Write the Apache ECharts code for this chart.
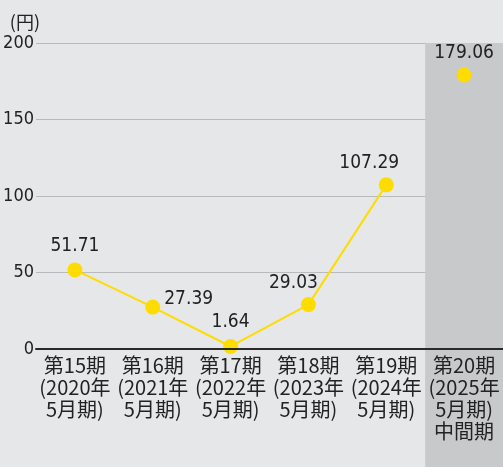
<!DOCTYPE html>
<html><head><meta charset="utf-8">
<script src="https://cdn.jsdelivr.net/npm/echarts@6/dist/echarts.min.js"></script>
<style>html,body{margin:0;padding:0;background:#e6e7e9;}#c{width:503px;height:467px;}</style>
</head><body><div id="c"></div>
<script>
var categories = ['第15期\n(2020年\n5月期)', '第16期\n(2021年\n5月期)', '第17期\n(2022年\n5月期)', '第18期\n(2023年\n5月期)', '第19期\n(2024年\n5月期)', '第20期\n(2025年\n5月期)\n中間期'];
var annualValues = [51.71, 27.39, 1.64, 29.03, 107.29, null];
var interimValues = [null, null, null, null, null, 179.06];
var yTicks = [0, 50, 100, 150, 200];
var unitLabel = '(円)';

var numFont = '"DejaVu Sans Condensed", "Liberation Sans", sans-serif';
var cjkFont = '"Noto Sans CJK JP", sans-serif';
var labelCfg = [
  {position: 'top', distance: 7, offset: [0, 0]},
  {position: 'right', distance: 4, offset: [0, -8]},
  {position: 'top', distance: 7, offset: [0, 0]},
  {position: 'top', distance: 5, offset: [-15, 0]},
  {position: 'top', distance: 5, offset: [-17, 0]}
];
var annualData = annualValues.map(function (v, i) {
  if (v === null) return '-';
  return {value: v, label: labelCfg[i]};
});
var interimData = interimValues.map(function (v) { return v === null ? '-' : v; });

var chart = echarts.init(document.getElementById('c'), null, {renderer: 'canvas'});
var option = {
  backgroundColor: '#e6e7e9',
  animation: false,
  grid: {left: 36, right: -1, top: 43, bottom: 118, containLabel: false},
  xAxis: {
    type: 'category', data: categories, z: 5,
    axisLine: {lineStyle: {color: '#2a2a2a', width: 2}},
    axisTick: {show: false},
    axisLabel: {interval: 0, color: '#222', fontFamily: cjkFont, fontSize: 20, lineHeight: 22, margin: 5},
    splitLine: {show: false}
  },
  yAxis: {
    type: 'value', min: yTicks[0], max: yTicks[yTicks.length - 1], interval: 50, z: 0,
    name: unitLabel, nameLocation: 'end', nameGap: 12,
    nameTextStyle: {color: '#222', fontFamily: cjkFont, fontSize: 18, align: 'right', padding: [0, -4, 0, 0]},
    axisLine: {show: false}, axisTick: {show: false},
    axisLabel: {color: '#222', fontFamily: numFont, fontSize: 18, margin: 2},
    splitLine: {lineStyle: {color: '#b9babc', width: 1}}
  },
  series: [
    {
      type: 'line', data: annualData, z: 4,
      lineStyle: {color: '#ffdc00', width: 2},
      itemStyle: {color: '#ffdc00'},
      symbol: 'circle', symbolSize: 15,
      label: {show: true, color: '#222', fontFamily: numFont, fontSize: 19},
      emphasis: {disabled: true}
    },
    {
      type: 'line', data: interimData, z: 4,
      lineStyle: {color: '#ffdc00', width: 2},
      itemStyle: {color: '#ffdc00'},
      symbol: 'circle', symbolSize: 15,
      label: {show: true, position: 'top', distance: 5, color: '#222', fontFamily: numFont, fontSize: 19},
      emphasis: {disabled: true}
    }
  ]
};
chart.setOption(option);

// shaded band behind the interim period, derived from the axis scale
var c5 = chart.convertToPixel({xAxisIndex: 0}, 5);
var c4 = chart.convertToPixel({xAxisIndex: 0}, 4);
var step = c5 - c4;
var yTop = chart.convertToPixel({yAxisIndex: 0}, yTicks[yTicks.length - 1]);
chart.setOption({
  graphic: [{
    type: 'rect', z: 1,
    shape: {x: c5 - step / 2, y: yTop, width: step + 2, height: 467 - yTop},
    style: {fill: '#c8c9cb'}
  }]
});
</script></body></html>
